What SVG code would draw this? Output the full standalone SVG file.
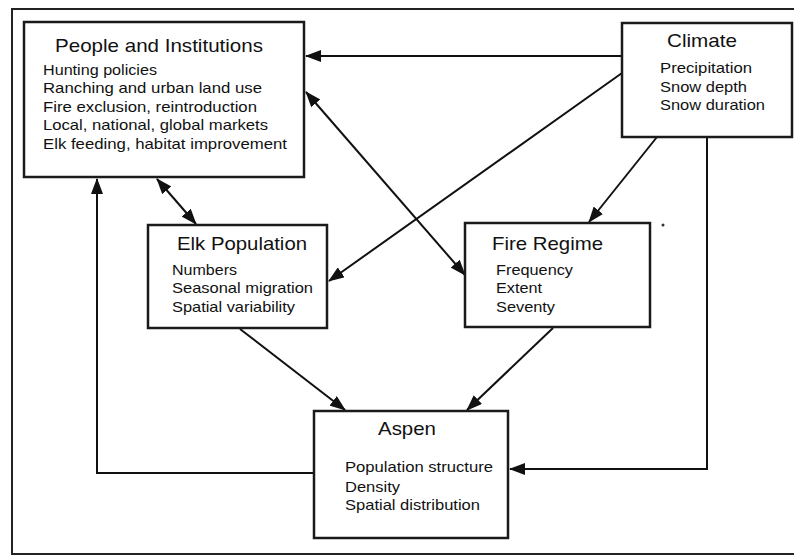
<svg xmlns="http://www.w3.org/2000/svg" width="794" height="558" viewBox="0 0 794 558">
<style>
.box{fill:#fff;stroke:#1a1a1a;stroke-width:2.5}
.frame{fill:none;stroke:#222;stroke-width:2}
.ln{fill:none;stroke:#111;stroke-width:2}
text{font-family:"Liberation Sans",Arial,sans-serif;fill:#111}
.t{font-size:19px}
.i{font-size:15px}
</style>
<defs>
<marker id="arr" viewBox="0 0 16 12" refX="15" refY="6" markerUnits="userSpaceOnUse" markerWidth="16" markerHeight="12" orient="auto-start-reverse">
<path d="M0,0 L16,6 L0,12 z" fill="#111"/>
</marker>
</defs>
<rect width="794" height="558" fill="#fff"/>
<rect class="frame" x="12" y="9" width="790" height="545"/>
<g id="connectors">
<path class="ln" d="M622,56 L306,56" marker-end="url(#arr)"/>
<path class="ln" d="M622,73 L329,281" marker-end="url(#arr)"/>
<path class="ln" d="M657,137 L589,222" marker-end="url(#arr)"/>
<path class="ln" d="M707,137 L707,469 L510,469" marker-end="url(#arr)"/>
<path class="ln" d="M306,92 L465,275" marker-start="url(#arr)" marker-end="url(#arr)"/>
<path class="ln" d="M157,179 L196,224" marker-start="url(#arr)" marker-end="url(#arr)"/>
<path class="ln" d="M314,473 L97,473 L97,179" marker-end="url(#arr)"/>
<path class="ln" d="M240,329 L345,410" marker-end="url(#arr)"/>
<path class="ln" d="M553,328 L467,410" marker-end="url(#arr)"/>
</g>
<g id="people">
<rect class="box" x="24" y="22" width="280" height="155"/>
<text class="t" x="55" y="52" textLength="208" lengthAdjust="spacingAndGlyphs">People and Institutions</text>
<text class="i" x="43" y="75" textLength="114" lengthAdjust="spacingAndGlyphs">Hunting policies</text>
<text class="i" x="43" y="93" textLength="219" lengthAdjust="spacingAndGlyphs">Ranching and urban land use</text>
<text class="i" x="43" y="112" textLength="214" lengthAdjust="spacingAndGlyphs">Fire exclusion, reintroduction</text>
<text class="i" x="43" y="130" textLength="225" lengthAdjust="spacingAndGlyphs">Local, national, global markets</text>
<text class="i" x="43" y="149" textLength="244" lengthAdjust="spacingAndGlyphs">Elk feeding, habitat improvement</text>
</g>
<g id="climate">
<rect class="box" x="622" y="23" width="170" height="114"/>
<text class="t" x="667" y="47" textLength="70" lengthAdjust="spacingAndGlyphs">Climate</text>
<text class="i" x="660" y="73" textLength="92" lengthAdjust="spacingAndGlyphs">Precipitation</text>
<text class="i" x="660" y="92" textLength="87" lengthAdjust="spacingAndGlyphs">Snow depth</text>
<text class="i" x="660" y="110" textLength="105" lengthAdjust="spacingAndGlyphs">Snow duration</text>
</g>
<g id="elk">
<rect class="box" x="148" y="225" width="179" height="103"/>
<text class="t" x="177" y="250" textLength="130" lengthAdjust="spacingAndGlyphs">Elk Population</text>
<text class="i" x="172" y="275" textLength="65" lengthAdjust="spacingAndGlyphs">Numbers</text>
<text class="i" x="172" y="293" textLength="141" lengthAdjust="spacingAndGlyphs">Seasonal migration</text>
<text class="i" x="172" y="312" textLength="123" lengthAdjust="spacingAndGlyphs">Spatial variability</text>
</g>
<g id="fire">
<rect class="box" x="465" y="223" width="185" height="104"/>
<text class="t" x="492" y="250" textLength="111" lengthAdjust="spacingAndGlyphs">Fire Regime</text>
<text class="i" x="496" y="275" textLength="77" lengthAdjust="spacingAndGlyphs">Frequency</text>
<text class="i" x="496" y="293" textLength="46" lengthAdjust="spacingAndGlyphs">Extent</text>
<text class="i" x="496" y="312" textLength="59" lengthAdjust="spacingAndGlyphs">Seventy</text>
</g>
<circle cx="663" cy="225" r="1.5" fill="#333"/>
<g id="aspen">
<rect class="box" x="314" y="411" width="194" height="127"/>
<text class="t" x="378" y="435" textLength="58" lengthAdjust="spacingAndGlyphs">Aspen</text>
<text class="i" x="345" y="472" textLength="148" lengthAdjust="spacingAndGlyphs">Population structure</text>
<text class="i" x="345" y="492" textLength="55" lengthAdjust="spacingAndGlyphs">Density</text>
<text class="i" x="345" y="510" textLength="135" lengthAdjust="spacingAndGlyphs">Spatial distribution</text>
</g>
</svg>
